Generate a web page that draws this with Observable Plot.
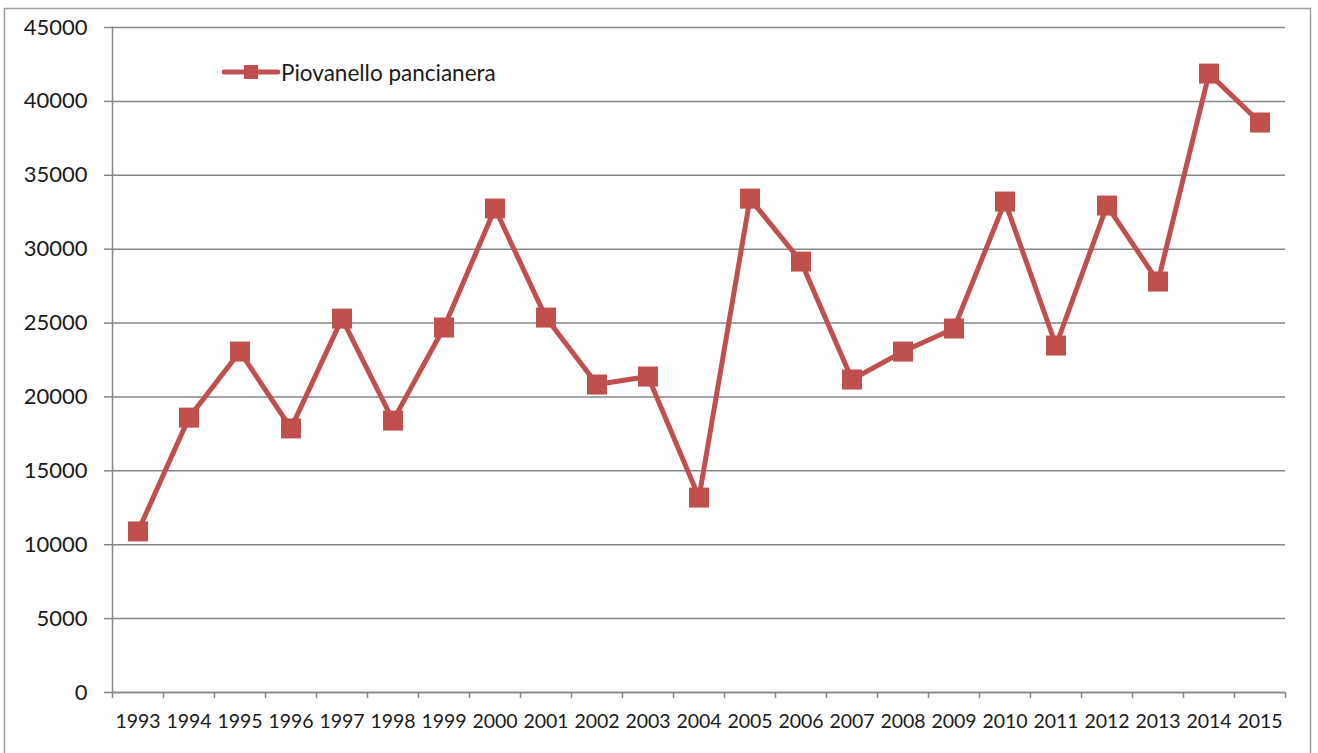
<!DOCTYPE html>
<html>
<head>
<meta charset="utf-8">
<script src="https://cdn.jsdelivr.net/npm/d3@7"></script>
<script src="https://cdn.jsdelivr.net/npm/@observablehq/plot@0.6"></script>
<style>
  html, body { margin: 0; padding: 0; background: #fff; }
  #wrap { position: relative; width: 1318px; height: 753px; overflow: hidden; }
  #legend { position: absolute; left: 222px; top: 57px; display: flex; align-items: center;
            font-family: Lato, "Open Sans", sans-serif; font-size: 22.5px; color: #1a1a1a; }
</style>
</head>
<body>
<div id="wrap">
  <div id="chart"></div>
  <div id="legend">
    <svg width="58" height="30" style="display:block">
      <line x1="2" y1="15" x2="56" y2="15" stroke="#c0504d" stroke-width="5" stroke-linecap="round"/>
      <rect x="22" y="8" width="14" height="14" fill="#c0504d"/>
    </svg>
    <span style="margin-left:1px">Piovanello pancianera</span>
  </div>
</div>
<script>
const years = [1993,1994,1995,1996,1997,1998,1999,2000,2001,2002,2003,2004,2005,2006,2007,2008,2009,2010,2011,2012,2013,2014,2015];
const values = [10900,18600,23070,17870,25300,18400,24700,32750,25370,20840,21380,13190,33420,29160,21180,23070,24630,33220,23480,32950,27810,41880,38570];
const yTicks = [0,5000,10000,15000,20000,25000,30000,35000,40000,45000];
const seriesName = "Piovanello pancianera";

const data = years.map((y, i) => ({year: y, value: values[i]}));
const bounds = years.map(y => y - 0.5).concat([years[years.length - 1] + 0.5]);

const gray = "#868686";
const red = "#c0504d";

const chart = Plot.plot({
  width: 1318,
  height: 753,
  marginLeft: 112,
  marginRight: 33,
  marginTop: 27,
  marginBottom: 61,
  style: {fontFamily: "Lato, 'Open Sans', sans-serif", color: "#1a1a1a", background: "#fff"},
  x: {type: "linear", domain: [bounds[0], bounds[bounds.length - 1]]},
  y: {domain: [0, 45000]},
  marks: [
    Plot.gridY(yTicks, {stroke: gray, strokeOpacity: 1, strokeWidth: 1.5}),
    Plot.axisY(yTicks, {tickSize: 8, tickPadding: 17, stroke: gray, strokeWidth: 1.5, fontSize: 22, label: null, tickFormat: d => String(d)}),
    Plot.axisX(bounds, {tickSize: 6, stroke: gray, strokeWidth: 1.5, tickFormat: () => "", label: null}),
    Plot.axisX(years, {tickSize: 0, tickPadding: 22, fontSize: 19.5, label: null, tickFormat: d => String(d)}),
    Plot.frame({anchor: "left", stroke: gray, strokeWidth: 1.5}),
    Plot.ruleY([0], {stroke: gray, strokeWidth: 1.5}),
    Plot.line(data, {x: "year", y: "value", stroke: red, strokeWidth: 5, strokeLinejoin: "round"}),
    Plot.dot(data, {x: "year", y: "value", symbol: "square", r: 11.3, fill: red, stroke: null, title: d => `${seriesName} ${d.year}: ${d.value}`})
  ]
});
document.getElementById("chart").appendChild(chart);

// outer chart-area border
d3.select(chart).append("rect")
  .attr("x", 4.5).attr("y", 8.5).attr("width", 1306).attr("height", 760)
  .attr("fill", "none").attr("stroke", "#a0a0a0").attr("stroke-width", 1.5);
</script>
</body>
</html>
